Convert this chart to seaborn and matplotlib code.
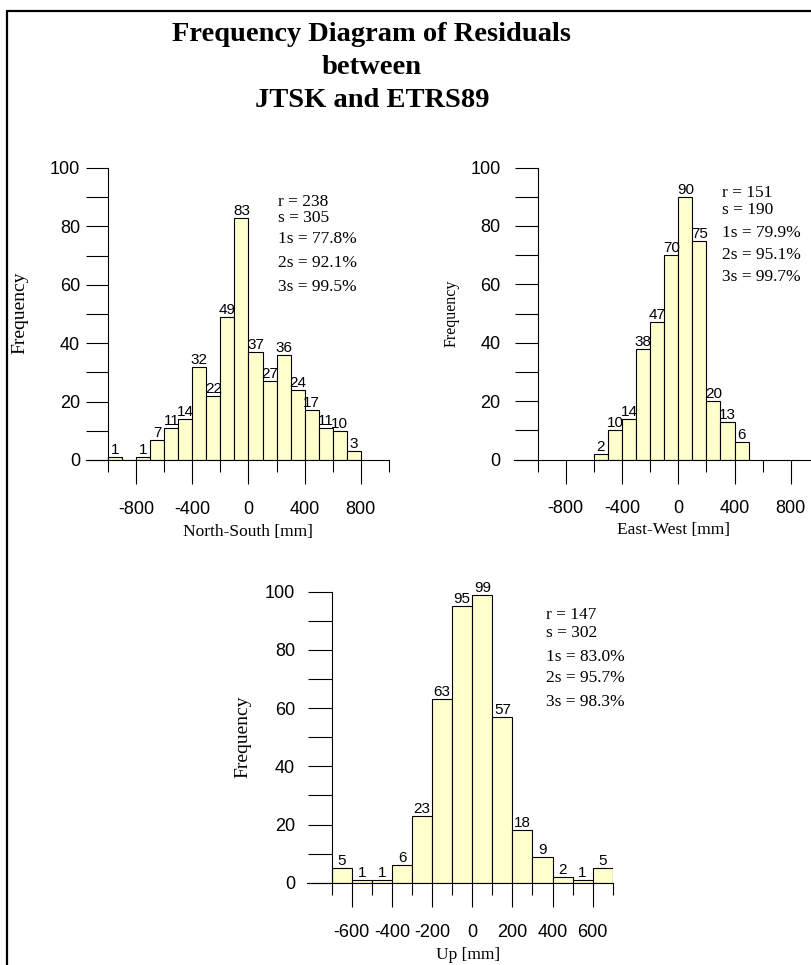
import numpy as np
import pandas as pd
import matplotlib
matplotlib.use("Agg")
import matplotlib.pyplot as plt
import seaborn as sns
from matplotlib.lines import Line2D

# bin lower edges (100 mm bins) and counts
ns_left = [-1000, -900, -800, -700, -600, -500, -400, -300, -200, -100,
           0, 100, 200, 300, 400, 500, 600, 700]
ns_count = [1, 0, 1, 7, 11, 14, 32, 22, 49, 83, 37, 27, 36, 24, 17, 11, 10, 3]

ew_left = [-600, -500, -400, -300, -200, -100, 0, 100, 200, 300, 400]
ew_count = [2, 10, 14, 38, 47, 70, 90, 75, 20, 13, 6]

up_left = [-700, -600, -500, -400, -300, -200, -100, 0, 100, 200, 300, 400, 500, 600]
up_count = [5, 1, 1, 6, 23, 63, 95, 99, 57, 18, 9, 2, 1, 5]

ns_stats = ["r = 238", "s = 305", "1s = 77.8%", "2s = 92.1%", "3s = 99.5%"]
ew_stats = ["r = 151", "s = 190", "1s = 79.9%", "2s = 95.1%", "3s = 99.7%"]
up_stats = ["r = 147", "s = 302", "1s = 83.0%", "2s = 95.7%", "3s = 98.3%"]

top_xmajor = [-800, -400, 0, 400, 800]
top_xminor = [-1000, -600, -200, 200, 600, 1000]
up_xmajor = [-600, -400, -200, 0, 200, 400, 600]
up_xminor = [-700, -500, -300, -100, 100, 300, 500, 700]
y_major = [0, 20, 40, 60, 80, 100]
y_minor = [10, 30, 50, 70, 90]

title_lines = ["Frequency Diagram of Residuals", "between", "JTSK and ETRS89"]

W, H = 812, 965
BAR = "#FFFFCC"
SERIF = "Liberation Serif"

sns.set_style("ticks")
plt.rcParams["font.family"] = ["Liberation Sans", "DejaVu Sans"]
plt.rcParams["axes.unicode_minus"] = False
plt.rcParams["text.color"] = "black"
plt.rcParams["axes.labelcolor"] = "black"
plt.rcParams["xtick.color"] = "black"
plt.rcParams["ytick.color"] = "black"

fig = plt.figure(figsize=(W / 100, H / 100), dpi=100)


def fx(px):
    return px / W


def fy(py):
    return 1 - py / H


def panel(box, lefts, counts, xlim, yaxis_at, xmajor, xminor, ytick_len, ypad,
          ylab, ylab_size, xlab, xlab_pos, stats, stats_pos):
    l, t, r, b = box
    ax = fig.add_axes([fx(l), fy(b), fx(r) - fx(l), fy(t) - fy(b)])
    df = pd.DataFrame({"x": np.array(lefts) + 50, "n": counts})
    edges = list(lefts) + [lefts[-1] + 100]
    sns.histplot(data=df, x="x", weights="n", bins=edges, ax=ax, color=BAR,
                 edgecolor="black", linewidth=0.8, alpha=1)
    ax.bar_label(ax.containers[0], labels=[str(c) if c else "" for c in counts],
                 padding=0, fontsize=11, color="black")
    ax.set_xlim(*xlim)
    ax.set_ylim(0, 100)
    for s in ["top", "right"]:
        ax.spines[s].set_visible(False)
    ax.spines["left"].set_position(("data", yaxis_at))
    for s in ["left", "bottom"]:
        ax.spines[s].set_linewidth(0.8)
        ax.spines[s].set_color("black")
    ax.set_yticks(y_major, labels=[str(v) for v in y_major])
    ax.set_yticks(y_minor, minor=True)
    ax.set_xticks(xmajor, labels=[str(v) for v in xmajor])
    ax.set_xticks(xminor, minor=True)
    ax.tick_params(axis="y", which="both", direction="out", length=ytick_len,
                   width=0.8, color="black", pad=ypad, labelsize=13, left=True)
    ax.tick_params(axis="x", which="major", direction="out", length=17,
                   width=0.8, color="black", pad=12.5, labelsize=13, bottom=True)
    ax.tick_params(axis="x", which="minor", direction="out", length=8.6,
                   width=0.8, color="black", bottom=True)
    ax.set_ylabel(ylab[0], family=SERIF, fontsize=ylab_size, va="center")
    ax.yaxis.set_label_coords(fx(ylab[1]), fy(ylab[2]), transform=fig.transFigure)
    ax.set_xlabel(xlab, family=SERIF, fontsize=12.5, va="center")
    ax.xaxis.set_label_coords(fx(xlab_pos[0]), fy(xlab_pos[1]), transform=fig.transFigure)
    sx, sys_ = stats_pos
    for txt, yy in zip(stats, sys_):
        fig.text(fx(sx), fy(yy), txt, family=SERIF, fontsize=12.5, va="center", ha="left")
    return ax


panel((86, 168, 388.7, 460), ns_left, ns_count, (-1159, 1000), -1000,
      top_xmajor, top_xminor, 16, 4.3, ("Frequency", 20, 313), 14,
      "North-South [mm]", (248, 531.7),
      ns_stats, (278, [201.7, 218.3, 239.3, 263.3, 286.7]))

panel((514.3, 167.5, 818.9, 459.5), ew_left, ew_count, (-1166, 1000), -1000,
      top_xmajor, top_xminor, 16.8, 9.8, ("Frequency", 451.7, 313), 11.5,
      "East-West [mm]", (673.3, 530),
      ew_stats, (721.7, [193.3, 210, 233.3, 255, 276.7]))

panel((307.3, 591.7, 612.7, 882.7), up_left, up_count, (-822, 700), -700,
      up_xmajor, up_xminor, 17.5, 8.9, ("Frequency", 243.3, 737), 14,
      "Up [mm]", (468, 955),
      up_stats, (546, [615, 633.3, 656.7, 678.3, 701.7]))

for txt, yy in zip(title_lines, [41, 74, 107]):
    fig.text(fx(372), fy(yy), txt, ha="center", va="baseline", family=SERIF,
             weight="bold", fontsize=20.5, color="black")

# page frame (only top and left edges fall inside the picture)
fig.add_artist(Line2D([fx(7.3), fx(7.3)], [fy(10.7), fy(980)], color="black",
                      lw=1.6, transform=fig.transFigure))
fig.add_artist(Line2D([fx(7.3), fx(830)], [fy(10.7), fy(10.7)], color="black",
                      lw=1.6, transform=fig.transFigure))

fig.savefig("out.png", dpi=100)
